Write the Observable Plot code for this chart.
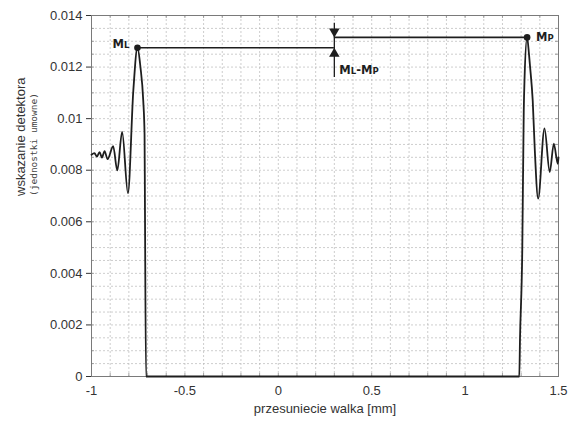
<!DOCTYPE html>
<html><head><meta charset="utf-8">
<script src="https://cdn.jsdelivr.net/npm/d3@7"></script>
<script src="https://cdn.jsdelivr.net/npm/@observablehq/plot@0.6"></script>
<style>html,body{margin:0;padding:0;background:#fff}svg{display:block}</style>
</head><body><div id="chart"></div>
<script>
// ---- data ----
const curveX = [-1.0, -0.984, -0.971, -0.957, -0.944, -0.930, -0.914, -0.884, -0.862, -0.836, -0.805, -0.776, -0.754, -0.738, -0.723, -0.716, -0.714, -0.708,
                 1.290, 1.294, 1.306, 1.314, 1.318, 1.332, 1.342, 1.348, 1.362, 1.373, 1.391, 1.425, 1.453, 1.475, 1.496, 1.5];
const curveY = [0.0086, 0.00866, 0.00853, 0.00870, 0.00849, 0.00874, 0.00843, 0.00893, 0.00799, 0.00949, 0.00711, 0.0111, 0.01275, 0.0120, 0.0107, 0.0094, 0.0068, 0,
                 0, 0.0015, 0.00487, 0.0103, 0.0115, 0.01315, 0.0125, 0.0120, 0.0107, 0.0088, 0.0069, 0.00962, 0.00793, 0.00903, 0.00825, 0.0085];
const peakML = {x: -0.754, y: 0.01275, name: "ML"};
const peakMP = {x: 1.332, y: 0.01315, name: "MP"};
const diffX = 0.3;
const diffSpan = [0.0116, 0.0137];
const xTicks = [-1, -0.5, 0, 0.5, 1, 1.5];
const yTicks = [0, 0.002, 0.004, 0.006, 0.008, 0.01, 0.012, 0.014];
const xMinor = d3.range(0, 26).map(i => -1 + i / 10);
const yMinor = d3.range(0, 29).map(i => i * 0.0005);
const xTitle = "przesuniecie walka [mm]";
const yTitle = "wskazanie detektora";
const yTitle2 = "(jednostki umowne)";
const diffLabel = "ML-MP";

// ---- layout ----
const W = 573, H = 429, mL = 91, mR = 15, mT = 15, mB = 53;
const pW = W - mL - mR, pH = H - mT - mB;
const curve = curveX.map((x, i) => ({x, y: curveY[i]}));
const hLines = [{x1: peakML.x, x2: diffX, y: peakML.y}, {x1: diffX, x2: peakMP.x, y: peakMP.y}];
const grid = {stroke: "#b8b8b8", strokeWidth: 0.7, strokeDasharray: "2,2"};
const tick = {stroke: "#8a8a8a", strokeWidth: 0.8};
const ink = "#1e1e1e";
const bold = {fontFamily: "'DejaVu Sans', sans-serif", fontWeight: "bold", fontSize: 11.5, fill: ink};

const chart = Plot.plot({
  width: W, height: H,
  marginLeft: mL, marginRight: mR, marginTop: mT, marginBottom: mB,
  style: {fontFamily: "'Liberation Sans', Arial, sans-serif", fontSize: "13px", color: "#333", background: "#fff"},
  x: {domain: [-1, 1.5], ticks: xTicks, tickFormat: d => String(d), tickSize: 0, tickPadding: 9, label: null},
  y: {domain: [0, 0.014], ticks: yTicks, tickFormat: d => String(+d.toFixed(3)), tickSize: 5, tickPadding: 4, label: null},
  marks: [
    Plot.ruleX(xMinor, grid),
    Plot.ruleY(yMinor, grid),
    Plot.ruleX(xMinor, {...tick, insetBottom: pH - 3}),
    Plot.ruleX(xMinor, {...tick, insetTop: pH - 3}),
    Plot.ruleY(yMinor, {...tick, insetRight: pW - 3}),
    Plot.ruleY(yMinor, {...tick, insetLeft: pW - 3}),
    Plot.frame({stroke: "#7a7a7a", strokeWidth: 1}),
    Plot.line(curve, {x: "x", y: "y", stroke: ink, strokeWidth: 1.8, curve: "monotone-x"}),
    Plot.ruleY(hLines, {y: "y", x1: "x1", x2: "x2", stroke: ink, strokeWidth: 1.6}),
    Plot.ruleX([diffX], {y1: diffSpan[0], y2: diffSpan[1], stroke: ink, strokeWidth: 1.3}),
    Plot.dot([{x: diffX, y: peakMP.y}], {x: "x", y: "y", symbol: "triangle", r: 3.9, rotate: 180, dy: -6, fill: ink, stroke: "none"}),
    Plot.dot([{x: diffX, y: peakML.y}], {x: "x", y: "y", symbol: "triangle", r: 3.9, dy: 6, fill: ink, stroke: "none"}),
    Plot.dot([peakML, peakMP], {x: "x", y: "y", r: 3.3, fill: ink, stroke: "none"}),
    Plot.text([peakML], {x: "x", y: "y", text: "name", textAnchor: "end", dx: -8, dy: -3, ...bold}),
    Plot.text([peakMP], {x: "x", y: "y", text: "name", textAnchor: "start", dx: 9, dy: 0, ...bold}),
    Plot.text([{x: diffX, y: peakML.y, t: diffLabel}], {x: "x", y: "y", text: "t", textAnchor: "start", dx: 5, dy: 23, ...bold}),
    Plot.text([xTitle], {frameAnchor: "bottom", dy: 36, fontSize: 13, fill: "#333"}),
    Plot.text([yTitle], {frameAnchor: "left", dx: -71, rotate: -90, fontSize: 13, fill: "#333"}),
    Plot.text([yTitle2], {frameAnchor: "left", dx: -58, rotate: -90, fontSize: 9.5, fontFamily: "'DejaVu Sans Mono', monospace", fill: "#444"})
  ]
});

// small-capital subscripts (L, P) in the M labels
const ns = "http://www.w3.org/2000/svg";
const scLabels = new Set([peakML.name, peakMP.name, diffLabel]);
chart.querySelectorAll("text").forEach(t => {
  if (t.children.length || !scLabels.has(t.textContent)) return;
  const s = t.textContent;
  t.textContent = "";
  for (const ch of s) {
    const ts = document.createElementNS(ns, "tspan");
    ts.textContent = ch;
    if (ch === "L" || ch === "P") ts.setAttribute("font-size", "8.5");
    t.appendChild(ts);
  }
});
document.getElementById("chart").appendChild(chart);
</script>
</body></html>
